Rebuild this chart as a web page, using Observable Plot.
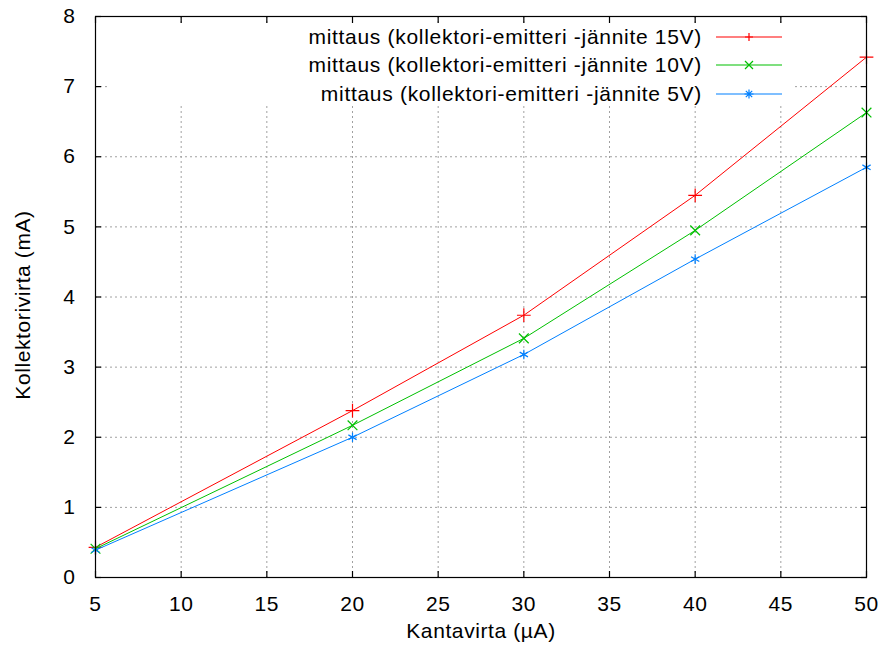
<!DOCTYPE html>
<html>
<head>
<meta charset="utf-8">
<script src="https://cdn.jsdelivr.net/npm/d3@7"></script>
<script src="https://cdn.jsdelivr.net/npm/@observablehq/plot@0.6"></script>
<style>
  html, body { margin: 0; padding: 0; background: #fff; }
  #wrap { position: relative; width: 880px; height: 662px; font-family: "Liberation Sans", Arial, sans-serif; }
  #wrap svg text { letter-spacing: 0.6px; }
  #legend { position: absolute; left: 110px; top: 23px; width: 685px; height: 82px; background: #fff; }
  .row { position: absolute; right: 0; height: 28px; display: flex; align-items: center; font-size: 21px; letter-spacing: 0.7px; color: #000; }
  .row span { margin-right: 14px; white-space: nowrap; }
</style>
</head>
<body>
<div id="wrap"><div id="legend"></div></div>
<script>
const baseCurrent = [5, 20, 30, 40, 50];
const ic15 = [0.43, 2.38, 3.74, 5.45, 7.42];
const ic10 = [0.41, 2.17, 3.41, 4.95, 6.63];
const ic5  = [0.39, 2.00, 3.18, 4.54, 5.85];
const seriesNames = [
  "mittaus (kollektori-emitteri -jännite 15V)",
  "mittaus (kollektori-emitteri -jännite 10V)",
  "mittaus (kollektori-emitteri -jännite 5V)"
];
const seriesColors = ["#ff0000", "#00c000", "#0080ff"];
const seriesSymbols = ["plus", "times", "asterisk"];
const xTicks = [5, 10, 15, 20, 25, 30, 35, 40, 45, 50];
const yTicks = [0, 1, 2, 3, 4, 5, 6, 7, 8];

const seriesValues = [ic15, ic10, ic5];
const rows = seriesValues.flatMap((vals, s) =>
  vals.map((v, i) => ({series: seriesNames[s], x: baseCurrent[i], y: v})));

const font = "Liberation Sans, Arial, sans-serif";
const marks = [
  Plot.gridX(xTicks, {stroke: "#a0a0a0", strokeOpacity: 1, strokeDasharray: "2,3"}),
  Plot.gridY(yTicks, {stroke: "#a0a0a0", strokeOpacity: 1, strokeDasharray: "2,3"}),
];
seriesNames.forEach((name, s) => {
  const d = rows.filter(r => r.series === name);
  marks.push(Plot.line(d, {x: "x", y: "y", stroke: seriesColors[s], strokeWidth: 1}));
  marks.push(Plot.dot(d, {x: "x", y: "y", stroke: seriesColors[s], symbol: seriesSymbols[s], r: 4.5, strokeWidth: 1.2}));
});
marks.push(
  Plot.frame({stroke: "#000", strokeWidth: 1.2}),
  Plot.text(xTicks, {x: d => d, frameAnchor: "bottom", dy: 27, fontSize: 21, text: d => String(d), textAnchor: "middle", lineAnchor: "middle"}),
  Plot.axisX(xTicks, {anchor: "bottom", tickSize: -6, text: null, label: null, strokeWidth: 1.2}),
  Plot.axisX(xTicks, {anchor: "top", tickSize: -6, text: null, label: null, strokeWidth: 1.2}),
  Plot.axisY(yTicks, {anchor: "left", tickSize: 0, tickPadding: 20, fontSize: 21, label: null, tickFormat: d => String(d)}),
  Plot.axisY(yTicks, {anchor: "left", tickSize: -6, text: null, label: null, strokeWidth: 1.2}),
  Plot.axisY(yTicks, {anchor: "right", tickSize: -6, text: null, label: null, strokeWidth: 1.2}),
  Plot.text(["Kantavirta (µA)"], {frameAnchor: "bottom", dy: 54, fontSize: 21, text: d => d, textAnchor: "middle", lineAnchor: "middle"}),
  Plot.text(["Kollektorivirta (mA)"], {frameAnchor: "left", dx: -72, dy: 8, rotate: -90, fontSize: 21, text: d => d, textAnchor: "middle", lineAnchor: "middle"})
);

const chart = Plot.plot({
  width: 880,
  height: 662,
  marginLeft: 95,
  marginRight: 14,
  marginTop: 16,
  marginBottom: 85,
  style: {fontFamily: font, fontSize: "21px", color: "#000", background: "#fff"},
  x: {domain: [5, 50]},
  y: {domain: [0, 8]},
  marks
});
const wrap = document.getElementById("wrap");
wrap.insertBefore(chart, wrap.firstChild);

// Legend (overlay with opaque background, like gnuplot's key)
const legend = document.getElementById("legend");
const symPath = {
  plus: "M-4,0H4M0,-4V4",
  times: "M-4,-4L4,4M-4,4L4,-4",
  asterisk: "M-4.5,0H4.5M0,-4.5V4.5M-3.2,-3.2L3.2,3.2M-3.2,3.2L3.2,-3.2"
};
seriesNames.forEach((name, s) => {
  const row = document.createElement("div");
  row.className = "row";
  row.style.top = (s * 28.3) + "px";
  row.style.right = "13px";
  const span = document.createElement("span");
  span.textContent = name;
  row.appendChild(span);
  const svg = document.createElementNS("http://www.w3.org/2000/svg", "svg");
  svg.setAttribute("width", "66");
  svg.setAttribute("height", "20");
  svg.innerHTML = `<line x1="0" x2="66" y1="10" y2="10" stroke="${seriesColors[s]}" stroke-width="1.2"/>` +
    `<path transform="translate(33,10)" d="${symPath[seriesSymbols[s]]}" stroke="${seriesColors[s]}" stroke-width="1.2" fill="none"/>`;
  row.appendChild(svg);
  legend.appendChild(row);
});
</script>
</body>
</html>
